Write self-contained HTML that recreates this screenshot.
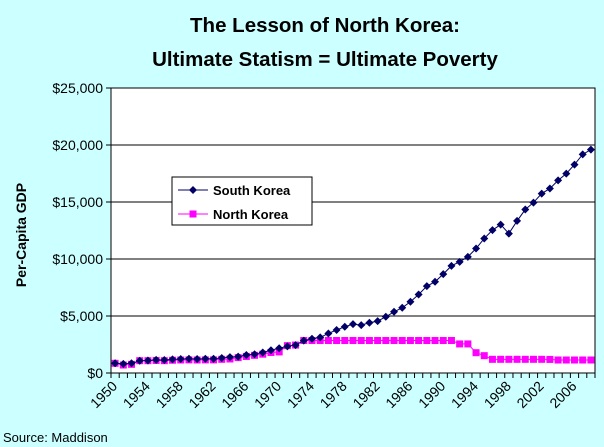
<!DOCTYPE html>
<html><head><meta charset="utf-8"><style>
body{margin:0;background:#ccffff;}
svg{display:block;font-family:"Liberation Sans",Arial,sans-serif;}
</style></head><body>
<svg id="c" width="604" height="447">
<rect width="604" height="447" fill="#ccffff"/>
<text x="325" y="32" text-anchor="middle" font-size="20.5" font-weight="bold">The Lesson of North Korea:</text>
<text x="325" y="66" text-anchor="middle" font-size="20.5" font-weight="bold">Ultimate Statism = Ultimate Poverty</text>
<text transform="translate(26,235) rotate(-90)" text-anchor="middle" font-size="14" font-weight="bold">Per-Capita GDP</text>
<text x="3" y="442" font-size="13">Source: Maddison</text>
<g id="plot"></g>
</svg>
<script>
const years=[];for(let y=1950;y<=2008;y++)years.push(y);
const southKorea=[854,800,850,1072,1100,1150,1140,1190,1230,1245,1226,1245,1250,1315,1390,1436,1580,1650,1800,2000,2167,2340,2450,2840,3000,3120,3470,3770,4060,4290,4200,4410,4550,4930,5370,5720,6250,6890,7620,8000,8670,9400,9750,10190,10920,11800,12530,13020,12230,13340,14340,14950,15740,16180,16900,17490,18280,19180,19590];
const northKorea=[850,700,760,1080,1080,1100,1080,1120,1140,1150,1140,1150,1150,1200,1230,1350,1450,1550,1650,1800,1850,2400,2450,2850,2850,2850,2850,2850,2850,2850,2850,2850,2850,2850,2850,2850,2850,2850,2850,2850,2850,2850,2550,2550,1780,1520,1200,1200,1200,1200,1200,1200,1200,1190,1140,1140,1140,1140,1140];
const yTicks=[0,5000,10000,15000,20000,25000];
const yLabels=["$0","$5,000","$10,000","$15,000","$20,000","$25,000"];
const X0=111,X1=595,Y0=373,Y1=88;
const bw=(X1-X0)/years.length;
const xs=i=>X0+bw*(i+0.5);
const ys=v=>Y0-(v/25000)*(Y0-Y1);
const NS="http://www.w3.org/2000/svg";
const g=document.getElementById('plot');
function mk(t,a,p){const e=document.createElementNS(NS,t);for(const k in a)e.setAttribute(k,a[k]);(p||g).appendChild(e);return e;}
const area=mk('rect',{x:X0,y:Y1,width:X1-X0,height:Y0-Y1,fill:'#fff',stroke:'#000'});


yTicks.forEach((v,i)=>{
 const l=mk('line',{x1:X0-5,x2:X1,y1:ys(v),y2:ys(v),stroke:'#000'});
 
 
 const t=mk('text',{x:X0-8,y:ys(v)+5,'text-anchor':'end','font-size':14});
 t.textContent=yLabels[i];
 
 
});
for(let i=0;i<=years.length;i++){
 const l=mk('line',{x1:X0+bw*i,x2:X0+bw*i,y1:Y0,y2:Y0+5,stroke:'#000'});
 
 
}
years.forEach((y,i)=>{if(i%4)return;
 const x=xs(i)+3,yy=Y0+14;
 const t=mk('text',{x:x,y:yy,'text-anchor':'end','font-size':14,transform:`rotate(-45 ${x} ${yy})`});
 t.textContent=y;
 
 
});
function series(data,color,shape,name){
 const p=mk('polyline',{points:data.map((v,i)=>xs(i)+','+ys(v)).join(' '),fill:'none',stroke:color,'stroke-width':1});
 
 
 data.forEach((v,i)=>{
  const x=xs(i),y=ys(v);let m;
  if(shape==='d')m=mk('polygon',{points:`${x},${y-4} ${x+4},${y} ${x},${y+4} ${x-4},${y}`,fill:color});
  else m=mk('rect',{x:x-3.5,y:y-3.5,width:7,height:7,fill:color});
  
  
 });
}
series(northKorea,'#ff00ff','s','north-korea');
series(southKorea,'#000066','d','south-korea');
const lg=mk('g',{});


mk('rect',{x:172,y:177,width:140,height:48,fill:'#fff',stroke:'#000'},lg);
mk('line',{x1:178,x2:208,y1:190,y2:190,stroke:'#000066'},lg);
mk('polygon',{points:'193,186 197,190 193,194 189,190',fill:'#000066'},lg);
const t1=mk('text',{x:213,y:195,'font-size':13,'font-weight':'bold'},lg);t1.textContent='South Korea';


mk('line',{x1:178,x2:208,y1:214,y2:214,stroke:'#ff00ff'},lg);
mk('rect',{x:189.5,y:210.5,width:7,height:7,fill:'#ff00ff'},lg);
const t2=mk('text',{x:213,y:219,'font-size':13,'font-weight':'bold'},lg);t2.textContent='North Korea';


</script>
</body></html>
